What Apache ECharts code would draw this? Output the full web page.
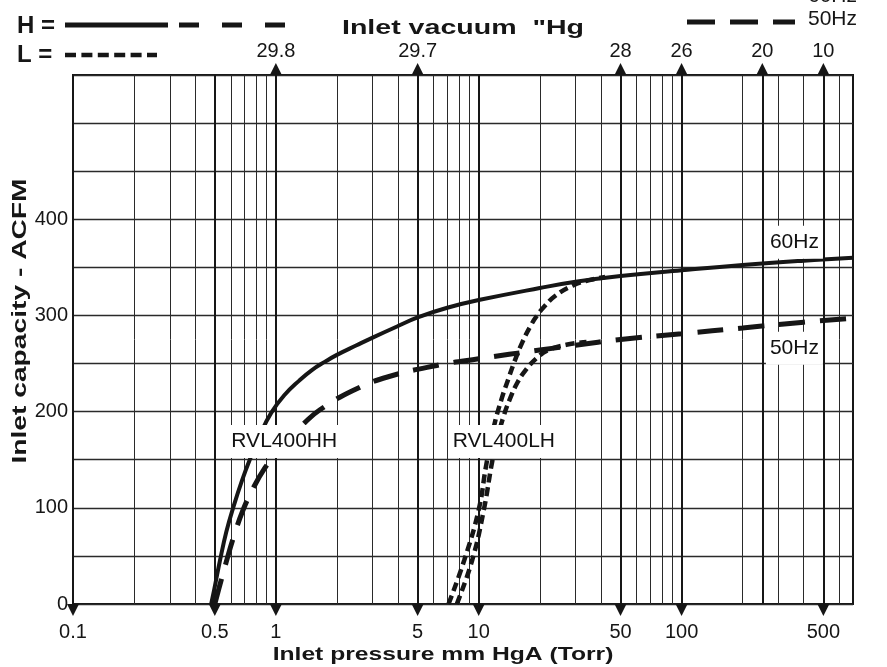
<!DOCTYPE html>
<html><head><meta charset="utf-8">
<script src="https://cdn.jsdelivr.net/npm/echarts@6/dist/echarts.min.js"></script>
<style>html,body{margin:0;padding:0;background:#fff}#c{width:887px;height:667px}</style>
</head><body><div id="c"></div>
<script>
// ---- tick labels ----
const bottomTickValues = [0.1, 0.5, 1, 5, 10, 50, 100, 500];
const bottomTickLabels = ['0.1', '0.5', '1', '5', '10', '50', '100', '500'];
const topTickValues = [1, 5, 50, 100, 250, 500];
const topTickLabels = ['29.8', '29.7', '28', '26', '20', '10'];
const gridValues = [0.2,0.3,0.4,0.6,0.7,0.8,0.9,2,3,4,6,7,8,9,20,30,40,60,70,80,90,200,300,400,600];
const yLabelValues = [0, 100, 200, 300, 400];

// ---- series values [pressure Torr, capacity ACFM] ----
const hh60 = [[0.48,0],[0.5,18],[0.53,45],[0.57,75],[0.62,102],[0.68,128],[0.75,152],[0.84,177],[0.95,199],[1.1,217],[1.3,232],[1.5,243],[1.75,252],[2,259],[2.5,269],[3,277],[4,289],[5,298],[7,308],[10,316],[20,328.5],[30,335],[50,341],[100,347],[200,352.5],[400,357],[700,360]];
const hh50 = [[0.5,0],[0.53,20],[0.57,44],[0.62,70],[0.69,98],[0.78,122],[0.88,141],[1.0,156],[1.15,171],[1.38,188],[1.65,202],[2.4,222],[3.55,236],[6.2,248],[10,255],[20,264],[30,269],[50,275],[100,281],[200,287],[400,293],[700,297]];
const lh60 = [[7.1,0],[8.5,46],[10,98],[10.9,145],[11.9,185],[13,214],[14,234],[15,252],[16.4,272],[18,289],[19.4,300],[21,309],[23.7,320],[29,331],[35.6,337],[42,340]];
const lh50 = [[7.8,0],[9.3,46],[10.6,98],[11.7,150],[12.5,176],[13.3,196],[14.3,214],[15.5,230],[17,243],[19.4,256],[22,264],[27,269.5],[34,272.5]];
const annotations = [[1.1,169,'RVL400HH'],[13.3,169,'RVL400LH'],[360,376,'60Hz'],[360,266,'50Hz']];

const FONT = "'Liberation Sans', Arial, sans-serif";
const INK = '#161616';

function lookup(vals, labels, v) {
  let best = 0, bd = Infinity;
  vals.forEach((t, i) => { const d = Math.abs(Math.log(t) - Math.log(v)); if (d < bd) { bd = d; best = i; } });
  return bd < 0.01 ? labels[best] : '';
}

const chart = echarts.init(document.getElementById('c'), null, {renderer: 'canvas'});
const logBase = {type: 'log', logBase: 10, min: 0.1, max: 700, gridIndex: 0};
const lineSeries = (name, data, style) => ({type: 'line', name, xAxisIndex: 1, data, smooth: 0.45,
  showSymbol: false, z: 5, lineStyle: Object.assign({color: INK, cap: 'butt'}, style)});

chart.setOption({
  animation: false,
  backgroundColor: '#fff',
  grid: {left: 73, right: 34, top: 75, bottom: 63, show: true, borderColor: INK, borderWidth: 2, backgroundColor: 'transparent'},
  xAxis: [
    Object.assign({}, logBase, {
      position: 'bottom',
      axisLine: {show: false}, axisTick: {show: false, customValues: gridValues},
      axisLabel: {show: false},
      splitLine: {show: true, lineStyle: {color: '#2a2a2a', width: 1}}
    }),
    Object.assign({}, logBase, {
      position: 'bottom',
      axisLine: {show: false}, axisTick: {show: false, customValues: bottomTickValues},
      axisLabel: {customValues: bottomTickValues, margin: 18, fontSize: 20, color: INK, fontFamily: FONT,
        formatter: v => lookup(bottomTickValues, bottomTickLabels, v)},
      splitLine: {show: true, lineStyle: {color: INK, width: 2}}
    }),
    Object.assign({}, logBase, {
      position: 'top',
      axisLine: {show: false}, axisTick: {show: false, customValues: topTickValues},
      axisLabel: {customValues: topTickValues, margin: 14, fontSize: 20, color: INK, fontFamily: FONT,
        formatter: v => lookup(topTickValues, topTickLabels, v)},
      splitLine: {show: true, lineStyle: {color: INK, width: 2}}
    })
  ],
  yAxis: {
    type: 'value', min: 0, max: 550, interval: 50,
    axisLine: {show: false}, axisTick: {show: false},
    axisLabel: {margin: 5, fontSize: 20, color: INK, fontFamily: FONT,
      formatter: v => yLabelValues.indexOf(v) >= 0 ? String(v) : ''},
    splitLine: {show: true, lineStyle: {color: '#2a2a2a', width: 1.3}}
  },
  series: [
    lineSeries('HH 60Hz', hh60, {width: 4}),
    lineSeries('HH 50Hz', hh50, {width: 5, type: [26, 15]}),
    lineSeries('LH 60Hz', lh60, {width: 4.5, type: [9, 5]}),
    lineSeries('LH 50Hz', lh50, {width: 4.5, type: [9, 5]}),
    {type: 'scatter', name: 'bottom ticks', xAxisIndex: 1, clip: false, silent: true, z: 6,
      data: bottomTickValues.map(v => [v, 0]), symbol: 'triangle', symbolSize: [12, 12], symbolRotate: 180,
      symbolOffset: [0, 6], itemStyle: {color: INK, opacity: 1}},
    {type: 'scatter', name: 'top ticks', xAxisIndex: 1, clip: false, silent: true, z: 6,
      data: topTickValues.map(v => [v, 550]), symbol: 'triangle', symbolSize: [12, 12],
      symbolOffset: [0, -6], itemStyle: {color: INK, opacity: 1}},
    {type: 'scatter', name: 'labels', xAxisIndex: 1, clip: false, silent: true, z: 8,
      data: annotations, symbol: 'rect', symbolSize: 1, itemStyle: {color: '#fff', opacity: 1},
      label: {show: true, position: 'inside', formatter: p => p.data[2], fontSize: 21, color: '#111',
        textBorderWidth: 0, opacity: 1, fontFamily: FONT, backgroundColor: '#fff', padding: [6, 4, 6, 4]}}
  ],
  graphic: [
    {type: 'text', x: 463, y: 28, scaleX: 1.36,
      style: {text: 'Inlet vacuum  "Hg', font: "bold 21px " + FONT, fill: INK, align: 'center', verticalAlign: 'middle'}},
    {type: 'text', x: 443, y: 655, scaleX: 1.37,
      style: {text: 'Inlet pressure mm HgA (Torr)', font: "bold 18px " + FONT, fill: INK, align: 'center', verticalAlign: 'middle'}},
    {type: 'text', x: 20, y: 321, rotation: Math.PI / 2, scaleX: 1.41,
      style: {text: 'Inlet capacity - ACFM', font: "bold 20px " + FONT, fill: INK, align: 'center', verticalAlign: 'middle'}},
    {type: 'text', x: 17, y: 26, style: {text: 'H =', font: "bold 24px " + FONT, fill: INK, verticalAlign: 'middle'}},
    {type: 'line', shape: {x1: 65, y1: 25, x2: 168, y2: 25}, style: {stroke: INK, lineWidth: 5}},
    {type: 'line', shape: {x1: 179, y1: 25, x2: 285, y2: 25}, style: {stroke: INK, lineWidth: 5, lineDash: [20, 23]}},
    {type: 'text', x: 17, y: 55, style: {text: 'L =', font: "bold 24px " + FONT, fill: INK, verticalAlign: 'middle'}},
    {type: 'line', shape: {x1: 65, y1: 55, x2: 157, y2: 55}, style: {stroke: INK, lineWidth: 4.5, lineDash: [11, 5.4]}},
    {type: 'line', shape: {x1: 687, y1: 22, x2: 795, y2: 22}, style: {stroke: INK, lineWidth: 5, lineDash: [28, 15]}},
    {type: 'text', x: 808, y: 19, style: {text: '50Hz', font: "21px " + FONT, fill: INK, verticalAlign: 'middle'}},
    {type: 'text', x: 808, y: -4, style: {text: '60Hz', font: "21px " + FONT, fill: INK, verticalAlign: 'middle'}}
  ]
});
</script></body></html>
